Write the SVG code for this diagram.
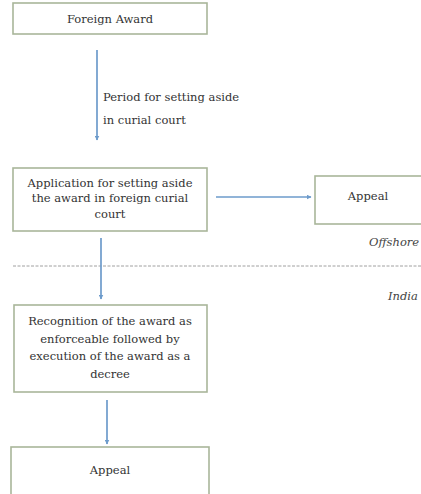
<svg xmlns="http://www.w3.org/2000/svg" width="421" height="494" viewBox="0 0 421 494">
<style>
.box{fill:#ffffff;stroke:#a9b69a;stroke-width:1.6}
text{font-family:'DejaVu Serif','Liberation Serif',serif;font-size:11.5px;fill:#333333}
.t{text-anchor:middle}
.i{font-style:italic;fill:#444444}
.c{stroke:#6d9bcb;stroke-width:1.7;fill:none;marker-end:url(#ah)}
</style>
<defs>
<marker id="ah" viewBox="0 0 10 10" refX="9" refY="5" markerWidth="5" markerHeight="5" markerUnits="userSpaceOnUse" orient="auto">
<path d="M0,0 L10,5 L0,10 z" fill="#6d9bcb"/>
</marker>
</defs>
<rect width="421" height="494" fill="#ffffff"/>
<line x1="13" y1="266" x2="421" y2="266" stroke="#a0a0a0" stroke-width="1" stroke-dasharray="3,1.5"/>
<g id="connectors">
<line class="c" x1="97" y1="50" x2="97" y2="140"/>
<line class="c" x1="216" y1="197" x2="311" y2="197"/>
<line class="c" x1="101" y1="238" x2="101" y2="299"/>
<line class="c" x1="107" y1="400" x2="107" y2="444"/>
</g>
<g id="label-period">
<text x="103" y="101">Period for setting aside</text>
<text x="103" y="124">in curial court</text>
</g>
<g id="foreign-award">
<rect class="box" x="13" y="3" width="194" height="31"/>
<text class="t" x="110" y="23">Foreign Award</text>
</g>
<g id="application">
<rect class="box" x="13" y="168" width="194" height="63"/>
<text class="t" x="110" y="187">Application for setting aside</text>
<text class="t" x="110" y="202">the award in foreign curial</text>
<text class="t" x="110" y="218">court</text>
</g>
<g id="appeal-offshore">
<rect class="box" x="315" y="176" width="120" height="48"/>
<text class="t" x="368" y="200">Appeal</text>
</g>
<g id="offshore-label">
<text class="i" x="369" y="246">Offshore</text>
</g>
<g id="india-label">
<text class="i" x="388" y="300">India</text>
</g>
<g id="recognition">
<rect class="box" x="14" y="305" width="193" height="87"/>
<text class="t" x="110" y="325">Recognition of the award as</text>
<text class="t" x="110" y="343">enforceable followed by</text>
<text class="t" x="110" y="360">execution of the award as a</text>
<text class="t" x="110" y="378">decree</text>
</g>
<g id="appeal-india">
<rect class="box" x="11" y="447" width="198" height="60"/>
<text class="t" x="110" y="474">Appeal</text>
</g>
</svg>
